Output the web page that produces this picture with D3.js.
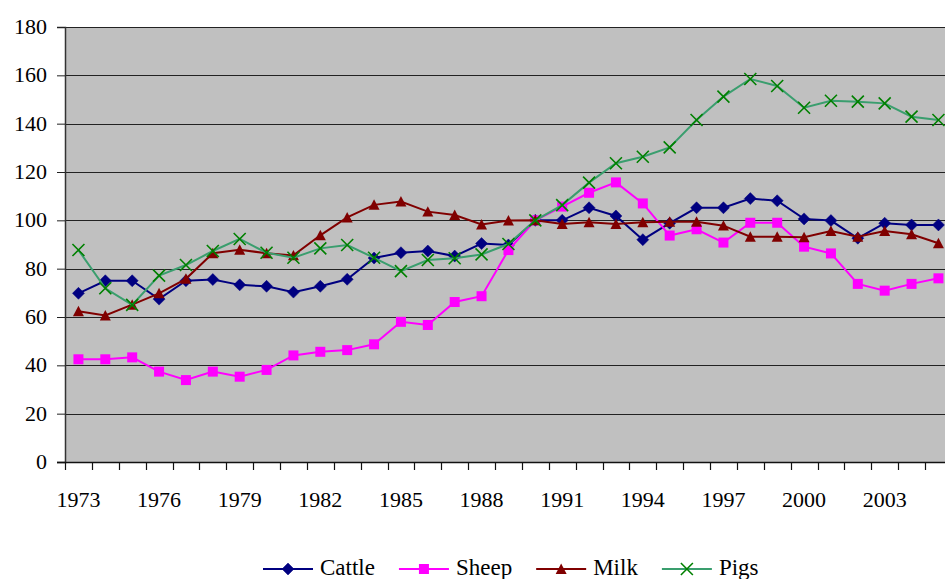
<!DOCTYPE html>
<html>
<head>
<meta charset="utf-8">
<script src="https://cdn.jsdelivr.net/npm/d3@7"></script>
<style>
  html, body { margin: 0; padding: 0; background: #fff; overflow: hidden; }
  svg text { font-family: 'Liberation Serif', 'Times New Roman', serif; }
</style>
</head>
<body>
<svg id="chart" width="945" height="579"></svg>
<script>
const years = d3.range(1973, 2006);
const yTicks = [0, 20, 40, 60, 80, 100, 120, 140, 160, 180];
const xLabelYears = [1973, 1976, 1979, 1982, 1985, 1988, 1991, 1994, 1997, 2000, 2003];

const cattle = [69.8, 75.0, 75.0, 67.4, 75.0, 75.5, 73.3, 72.7, 70.3, 72.7, 75.6, 84.4, 86.6, 87.3, 85.2, 90.4, 89.8, 100, 100, 105.2, 101.8, 92.0, 98.8, 105.2, 105.2, 109.0, 108.1, 100.6, 99.9, 92.6, 98.8, 98.1, 98.1];
const sheep  = [42.5, 42.5, 43.3, 37.4, 33.9, 37.4, 35.3, 38.1, 44.1, 45.6, 46.3, 48.7, 58.0, 56.7, 66.2, 68.6, 87.7, 100, 105.7, 111.4, 115.7, 107.0, 93.7, 96.3, 90.8, 99.0, 99.0, 89.1, 86.3, 73.7, 70.9, 73.7, 76.0];
const milk   = [62.4, 60.6, 65.1, 69.8, 75.8, 86.4, 87.8, 86.4, 85.5, 93.8, 101.2, 106.4, 107.8, 103.6, 102.2, 98.3, 99.9, 100, 98.5, 99.2, 98.5, 99.2, 99.4, 99.4, 97.8, 93.2, 93.2, 93.0, 95.6, 93.2, 95.6, 94.2, 90.5];
const pigs   = [87.7, 71.9, 65.0, 77.1, 81.5, 87.3, 92.3, 86.6, 84.5, 88.4, 89.8, 84.5, 79.0, 83.6, 84.3, 85.9, 90.2, 100, 106.3, 115.6, 123.6, 126.3, 130.2, 141.5, 151.2, 158.5, 155.6, 146.6, 149.5, 149.1, 148.4, 142.9, 141.5];

const seriesNames = ["Cattle", "Sheep", "Milk", "Pigs"];
const seriesValues = [cattle, sheep, milk, pigs];

const styles = {
  Cattle: { line: "#000080", fill: "#000080", marker: "diamond" },
  Sheep:  { line: "#FF00FF", fill: "#FF00FF", marker: "square" },
  Milk:   { line: "#800000", fill: "#800000", marker: "triangle" },
  Pigs:   { line: "#3A9E6E", fill: "#008000", marker: "x" }
};
const FONT = "'Liberation Serif', 'Times New Roman', serif";

const svg = d3.select("#chart");
const plotLeft = 65, plotTop = 27, plotBottom = 462;
const step = 26.875;
const plotRight = plotLeft + step * years.length;

const x = d3.scaleBand().domain(years).range([plotLeft, plotRight]).padding(0);
const y = d3.scaleLinear().domain([0, 180]).range([plotBottom, plotTop]);
const cx = yr => x(yr) + x.bandwidth() / 2;

// plot background
svg.append("rect")
  .attr("x", plotLeft).attr("y", plotTop)
  .attr("width", plotRight - plotLeft).attr("height", plotBottom - plotTop)
  .attr("fill", "#C0C0C0");

// gridlines
svg.append("g").selectAll("line")
  .data(yTicks.filter(d => d > 0))
  .join("line")
  .attr("x1", plotLeft).attr("x2", plotRight)
  .attr("y1", d => Math.round(y(d)) + 0.5).attr("y2", d => Math.round(y(d)) + 0.5)
  .attr("stroke", "#222").attr("stroke-width", 1);

// y axis
const yAxis = d3.axisLeft(y).tickValues(yTicks).tickSize(8).tickPadding(10);
const gy = svg.append("g").attr("transform", `translate(${plotLeft},0)`).call(yAxis)
  .attr("font-family", null).attr("font-size", null);
gy.select(".domain").attr("stroke", "#333").attr("stroke-width", 1.5);
gy.selectAll(".tick line").attr("stroke", "#222");
gy.selectAll(".tick text").attr("font-size", 22).attr("fill", "#000")
  .style("font-family", FONT).attr("dy", "0.3em");

// x axis baseline
svg.append("line")
  .attr("x1", plotLeft - 8).attr("x2", plotRight)
  .attr("y1", plotBottom + 0.5).attr("y2", plotBottom + 0.5)
  .attr("stroke", "#111").attr("stroke-width", 1.3);

// x tick marks at category boundaries
const boundaries = years.map(yr => x(yr)).concat([plotRight]);
svg.append("g").selectAll("line").data(boundaries).join("line")
  .attr("x1", d => Math.round(d) + 0.5).attr("x2", d => Math.round(d) + 0.5)
  .attr("y1", plotBottom).attr("y2", plotBottom + 8)
  .attr("stroke", "#111").attr("stroke-width", 1.2);

// x labels
svg.append("g").selectAll("text").data(xLabelYears).join("text")
  .attr("x", d => cx(d)).attr("y", 507)
  .attr("text-anchor", "middle").attr("font-size", 22).attr("fill", "#000")
  .style("font-family", FONT)
  .text(d => d);

// markers
function drawMarker(g, type, px, py, st, scale = 1) {
  if (type === "diamond") {
    const r = 6 * scale;
    g.append("path").attr("d", `M${px},${py - r}L${px + r},${py}L${px},${py + r}L${px - r},${py}Z`)
      .attr("fill", st.fill).attr("stroke", st.fill).attr("stroke-width", 0.5);
  } else if (type === "square") {
    const r = 5 * scale;
    g.append("rect").attr("x", px - r).attr("y", py - r).attr("width", 2 * r).attr("height", 2 * r)
      .attr("fill", st.fill);
  } else if (type === "triangle") {
    const r = 5.5 * scale;
    g.append("path").attr("d", `M${px},${py - r}L${px + r},${py + r * 0.9}L${px - r},${py + r * 0.9}Z`)
      .attr("fill", st.fill);
  } else if (type === "x") {
    const r = 6 * scale;
    g.append("path").attr("d", `M${px - r},${py - r}L${px + r},${py + r}M${px - r},${py + r}L${px + r},${py - r}`)
      .attr("stroke", st.fill).attr("stroke-width", 1.6).attr("fill", "none");
  }
}

svg.append("clipPath").attr("id", "plotclip").append("rect")
  .attr("x", 0).attr("y", 0).attr("width", 945).attr("height", plotBottom + 10);

const line = d3.line().x(d => cx(d.year)).y(d => y(d.v));

seriesNames.forEach((name, i) => {
  const st = styles[name];
  const data = years.map((yr, j) => ({ year: yr, v: seriesValues[i][j] }));
  const g = svg.append("g").attr("clip-path", "url(#plotclip)");
  g.append("path").datum(data).attr("d", line)
    .attr("fill", "none").attr("stroke", st.line).attr("stroke-width", 2);
  data.forEach(d => drawMarker(g, st.marker, cx(d.year), y(d.v), st));
});

// legend
const legend = svg.append("g");
let lx = 263;
const ly = 569;
seriesNames.forEach(name => {
  const st = styles[name];
  legend.append("line").attr("x1", lx).attr("x2", lx + 50).attr("y1", ly).attr("y2", ly)
    .attr("stroke", st.line).attr("stroke-width", 2);
  drawMarker(legend, st.marker, lx + 25, ly, st);
  const t = legend.append("text").attr("x", lx + 57).attr("y", 575)
    .attr("font-size", 23).attr("fill", "#000").style("font-family", FONT).text(name);
  lx += 57 + t.node().getComputedTextLength() + 24;
});
</script>
</body>
</html>
